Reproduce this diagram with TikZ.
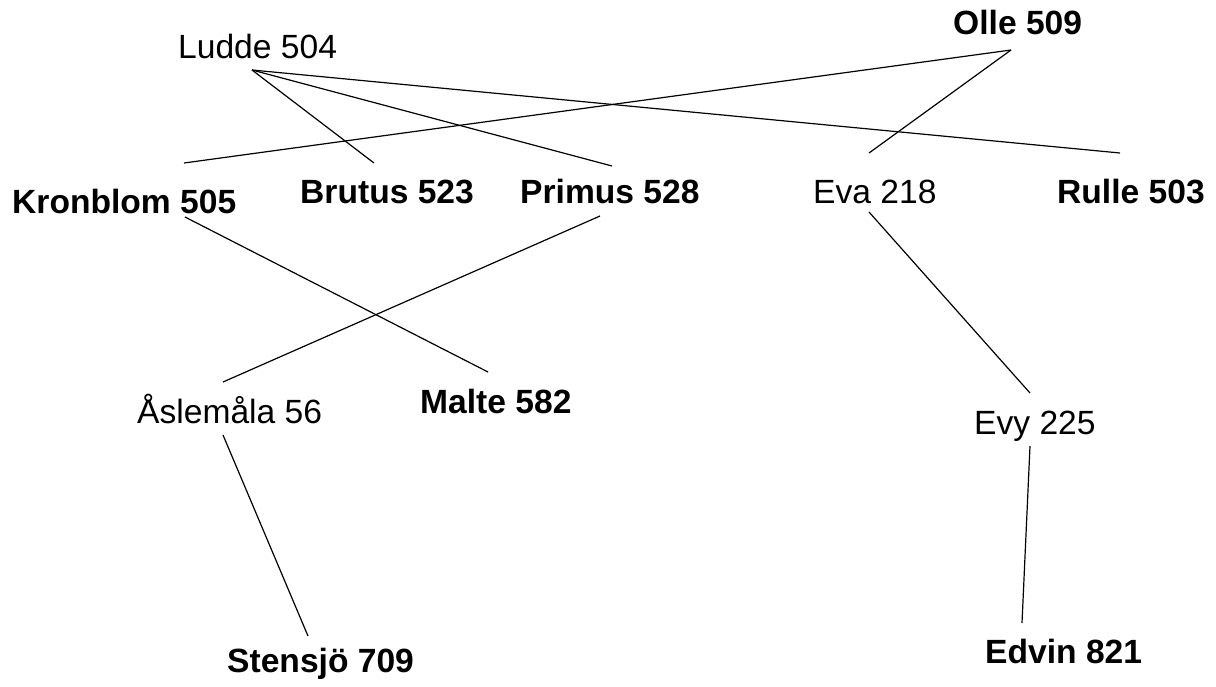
\documentclass[tikz,border=0pt]{standalone}
\usepackage{fontspec}
\setmainfont{Liberation Sans}
\begin{document}
\begin{tikzpicture}[x=1pt,y=-1pt,
  lbl/.style={anchor=base west,inner sep=0pt,font=\fontsize{33.6}{40}\selectfont},
  blbl/.style={lbl,font=\fontsize{33.6}{40}\selectfont\bfseries},
  edge/.style={draw=black,line width=1.2pt}]
\useasboundingbox (0,0) rectangle (1216,686);

% labels
\node[lbl]  (ludde)   at (178,58)  {Ludde 504};
\node[blbl] (olle)    at (953,34)  {Olle 509};
\node[blbl] (kron)    at (12,213)  {Kronblom 505};
\node[blbl] (brutus)  at (300,203) {Brutus 523};
\node[blbl] (primus)  at (520,203) {Primus 528};
\node[lbl]  (eva)     at (813,203) {Eva 218};
\node[blbl] (rulle)   at (1057,203){Rulle 503};
\node[lbl]  (asle)    at (137,423) {Åslemåla 56};
\node[blbl] (malte)   at (420,413) {Malte 582};
\node[lbl]  (evy)     at (974,434) {Evy 225};
\node[blbl] (stensjo) at (227,672) {Stensjö 709};
\node[blbl] (edvin)   at (985,663) {Edvin 821};

% connectors
\draw[edge] ([shift={(74,12)}]ludde.base west) -- ([shift={(74,-40)}]brutus.base west);
\draw[edge] ([shift={(74,12)}]ludde.base west) -- ([shift={(92,-37)}]primus.base west);
\draw[edge] ([shift={(74,12)}]ludde.base west) -- ([shift={(63,-50)}]rulle.base west);
\draw[edge] ([shift={(58,16)}]olle.base west) -- ([shift={(172,-50)}]kron.base west);
\draw[edge] ([shift={(58,16)}]olle.base west) -- ([shift={(56,-50)}]eva.base west);
\draw[edge] ([shift={(173,4)}]kron.base west) -- ([shift={(68,-41)}]malte.base west);
\draw[edge] ([shift={(80,13)}]primus.base west) -- ([shift={(86,-41)}]asle.base west);
\draw[edge] ([shift={(86,12)}]asle.base west) -- ([shift={(81,-36)}]stensjo.base west);
\draw[edge] ([shift={(56,9)}]eva.base west) -- ([shift={(56,-41)}]evy.base west);
\draw[edge] ([shift={(56,12)}]evy.base west) -- ([shift={(37,-40)}]edvin.base west);
\end{tikzpicture}
\end{document}
